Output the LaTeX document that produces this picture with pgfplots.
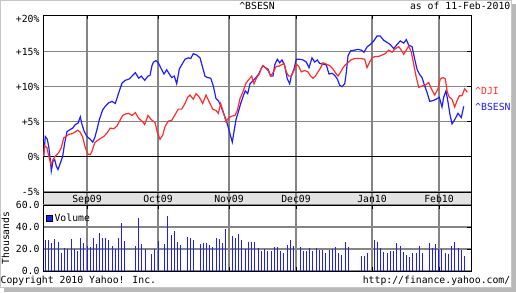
\documentclass[border=0pt]{standalone}
\usepackage{pgfplots}
\pgfplotsset{compat=1.18}
\usepackage{fontspec}
\setmainfont{DejaVu Sans Mono}
\definecolor{bseblue}{RGB}{30,30,255}
\definecolor{djired}{RGB}{255,45,45}
\colorlet{gridgray}{black!48}
\definecolor{bandgray}{RGB}{226,226,226}
\pgfplotstableread{
x y
43.7 0.1
45.3 2.9
47.3 2.5
48.7 1.5
50.3 -0.4
51.3 -2.0
53.0 -0.6
54.7 -0.4
56.3 -1.3
58.0 -1.8
60.3 -0.9
62.7 0.1
64.7 2.0
67.0 3.6
70.3 3.9
72.7 4.1
75.3 4.6
78.0 4.8
80.3 5.7
82.0 4.6
84.3 3.6
87.0 2.9
90.3 2.5
92.7 2.1
94.7 2.7
97.0 3.9
99.3 5.3
102.7 6.7
105.3 7.2
108.7 7.7
112.0 7.9
115.3 7.6
118.7 9.1
122.0 10.5
125.3 10.9
129.3 11.1
132.0 11.5
135.3 12.0
138.7 11.2
141.3 11.5
144.7 10.9
148.0 11.5
150.0 11.6
152.0 13.0
153.5 13.5
156.0 13.7
158.3 13.4
161.0 12.6
164.0 11.8
166.7 12.4
169.3 11.8
171.7 11.3
174.3 11.5
176.7 10.4
179.3 12.5
181.7 13.1
185.0 13.9
188.3 14.1
190.7 14.0
193.3 14.7
196.7 14.5
200.0 14.1
202.7 12.7
205.0 11.5
207.3 11.3
210.7 11.2
213.3 10.1
216.0 8.3
218.3 8.0
220.7 7.3
223.3 6.3
226.0 5.3
228.3 4.2
230.7 2.9
232.3 2.1
234.0 3.6
236.0 5.3
238.3 6.4
240.7 7.6
243.3 8.7
245.3 9.4
247.7 9.0
250.0 10.4
252.7 10.8
256.0 11.3
258.7 11.8
261.3 12.6
263.0 13.0
265.3 12.7
268.0 12.5
270.7 11.5
273.0 11.5
274.7 13.1
277.3 13.9
279.7 13.4
282.0 13.8
284.7 13.0
287.3 11.1
289.7 10.4
291.3 11.5
294.0 12.5
296.3 13.9
299.7 13.9
303.0 13.8
306.3 13.5
309.0 12.7
312.0 14.1
314.7 13.5
317.3 13.8
319.7 13.3
323.0 13.2
326.3 13.1
329.0 11.8
332.0 11.9
334.7 11.6
337.3 11.1
339.7 10.2
342.0 10.0
344.7 10.4
346.3 12.0
348.0 14.4
350.7 15.1
354.7 15.2
358.0 15.3
361.3 15.2
364.0 14.9
367.3 15.7
370.3 16.0
373.7 16.5
377.0 17.2
380.3 17.2
383.7 16.6
387.0 16.3
390.3 16.0
393.7 15.4
397.0 16.0
400.3 16.5
403.7 16.2
406.3 16.7
408.7 15.9
412.0 15.7
414.7 13.9
417.0 12.5
419.3 11.8
422.0 11.3
424.7 10.1
427.0 9.2
429.7 7.9
432.7 8.0
436.0 8.2
439.3 8.5
442.0 7.1
443.7 8.5
446.0 9.4
448.0 7.8
450.0 6.0
452.0 4.7
454.7 5.3
458.0 6.2
461.3 5.6
463.7 7.2
}\bsesn
\pgfplotstableread{
x y
43.7 0.1
44.7 1.6
47.0 1.3
48.7 0.1
51.0 -1.1
53.0 -0.4
55.3 0.1
58.7 0.6
61.3 1.3
63.7 2.7
66.0 2.9
68.7 3.2
72.0 3.3
74.7 3.5
77.7 3.8
80.3 3.5
82.7 2.8
85.3 1.3
88.0 0.4
90.3 0.3
92.0 0.8
94.7 2.0
97.0 2.3
100.3 2.6
103.7 2.9
107.0 3.4
110.3 4.1
113.7 4.0
117.0 4.4
120.3 5.3
122.7 5.9
125.3 6.1
128.7 6.2
132.0 5.9
135.3 6.3
138.7 5.5
142.0 5.1
144.7 4.6
148.0 5.9
151.3 5.3
155.0 4.9
157.3 3.5
160.0 2.5
162.7 3.1
165.0 4.3
168.3 5.1
171.7 5.2
175.0 6.0
178.3 6.8
181.7 6.8
185.0 7.6
187.7 8.5
190.0 8.8
193.3 8.2
196.0 9.0
199.3 8.5
202.7 7.6
206.0 8.8
209.3 7.8
212.7 6.8
216.0 6.6
218.3 6.2
220.7 7.6
223.3 6.4
226.0 5.0
228.3 5.5
231.7 5.8
235.0 5.9
237.3 6.6
240.0 8.3
242.7 9.2
246.0 10.5
249.3 11.1
251.7 11.5
254.0 10.4
256.7 11.3
259.3 11.8
261.3 12.6
263.0 13.0
265.3 12.7
268.0 12.3
270.7 11.5
273.0 12.0
276.3 12.9
278.7 12.9
281.3 13.1
284.0 13.3
286.3 12.1
288.7 11.5
291.3 11.5
294.0 12.3
296.3 13.2
298.7 12.9
301.3 12.1
304.7 12.3
308.0 12.1
310.7 11.5
313.0 11.2
315.3 11.5
318.0 12.1
320.7 12.7
323.0 13.4
326.3 13.2
329.7 13.0
333.0 12.5
336.3 11.8
338.0 11.5
340.7 12.1
343.0 12.7
345.3 13.1
348.0 13.4
350.7 13.8
354.7 14.0
358.0 14.0
361.3 14.0
364.7 13.9
367.0 12.7
369.3 13.4
372.0 14.1
375.3 14.3
378.7 14.3
382.0 14.5
385.3 14.7
388.7 15.2
392.0 14.9
395.3 15.4
398.7 15.7
401.3 15.2
403.7 14.6
406.3 15.2
408.7 15.8
411.3 14.9
413.7 13.2
416.0 11.5
418.7 9.9
422.0 10.1
425.3 10.2
428.7 10.6
431.3 9.7
434.7 8.8
438.0 9.7
440.3 11.1
443.0 11.3
445.3 11.1
447.3 9.2
449.3 8.5
452.0 8.2
454.7 7.1
457.0 8.0
459.3 8.7
462.0 8.7
464.7 9.7
467.3 9.2
}\dji
\pgfplotstableread{
x v
45.3 28.5
48.3 28.5
51.3 25.5
54.3 29.4
58.3 26.4
61.3 16.7
64.3 20.9
67.3 19.7
71.3 29.4
74.3 20.3
77.3 18.2
80.3 30.0
83.3 25.5
87.3 23.0
90.3 22.1
93.3 30.0
96.3 24.5
99.3 34.5
102.3 30.0
105.3 30.0
108.3 28.5
112.3 22.7
115.3 19.7
118.3 30.0
121.3 43.9
124.3 27.6
135.3 23.0
138.3 48.2
141.3 24.5
145.3 20.3
151.3 15.8
154.3 20.3
158.3 27.6
164.3 24.5
167.3 50.0
171.3 32.7
174.3 36.4
177.3 26.4
180.3 23.9
187.3 30.9
190.3 30.0
193.3 28.2
200.3 24.5
203.3 25.5
206.3 25.5
209.3 23.6
212.3 21.8
216.3 30.0
219.3 29.1
222.3 25.5
225.3 38.2
232.3 31.8
235.3 30.0
238.3 33.6
241.3 28.2
245.3 20.0
248.3 26.4
251.3 26.4
254.3 26.4
258.3 20.9
261.3 18.2
264.3 20.0
267.3 18.2
271.3 18.2
274.3 21.8
277.3 21.8
280.3 18.2
283.3 16.4
287.3 23.6
290.3 28.2
293.3 22.7
300.3 21.8
303.3 18.2
306.3 18.2
309.3 20.9
312.3 18.2
316.3 20.9
319.3 19.1
322.3 19.1
325.3 16.4
329.3 19.1
332.3 20.0
335.3 21.8
338.3 16.4
341.3 14.5
345.3 26.4
348.3 21.8
361.3 13.6
364.3 13.6
367.3 16.4
374.3 28.2
377.3 26.4
380.3 20.9
383.3 17.3
387.3 16.4
390.3 18.2
393.3 18.2
396.3 25.5
400.3 22.7
403.3 17.3
406.3 14.5
409.3 12.7
412.3 16.4
416.3 16.4
419.3 22.7
422.3 16.4
429.3 25.5
432.3 20.9
435.3 24.5
438.3 20.0
441.3 20.0
445.3 16.4
448.3 15.5
451.3 22.7
454.3 26.4
458.3 20.9
461.3 19.1
464.3 13.6
}\volume
\begin{document}
\fontsize{9.8}{11}\selectfont
\begin{tikzpicture}[x=1pt,y=1pt]
\path[use as bounding box] (0,0) rectangle (516,292);
\fill[gray!55] (4,0) rectangle (516,4.5);
\fill[gray!55] (511.5,0) rectangle (516,288);
\draw[gray!45, line width=0.6pt] (0.3,4.5) rectangle (511.5,291.7);
\fill[bandgray] (43,87) rectangle (471,100);
\foreach \mx in {87,158,229,296,372,439} {\draw[gridgray, line width=1.1pt] (\mx,87) -- (\mx,100);}
\draw[black, line width=0.9pt] (43,87) rectangle (471,100);
\node[anchor=base, inner sep=0pt] at (257,282) {\textasciicircum BSESN};
\node[anchor=base east, inner sep=0pt] at (510.5,282) {as of 11-Feb-2010};
\node[anchor=base west, inner sep=0pt] at (0.5,9) {Copyright 2010 Yahoo! Inc.};
\node[anchor=base east, inner sep=0pt] at (510.5,9) {http://finance.yahoo.com/};

\begin{axis}[at={(43pt,100pt)}, anchor=south west, scale only axis,
  width=428pt, height=177pt,
  xmin=43, xmax=471, ymin=-5, ymax=20.2,
  axis line style={black, line width=0.9pt},
  xtick={87,158,229,296,372,439},
  xticklabels={Sep09,Oct09,Nov09,Dec09,Jan10,Feb10},
  xtick pos=top, xticklabel pos=bottom,
  ytick={-5,0,5,10,15}, yticklabels={-5\%,0\%,+5\%,+10\%,+15\%},
  ytick pos=right, yticklabel pos=left,
  extra y ticks={20}, extra y tick labels={+20\%},
  extra y tick style={ymajorgrids=false, major tick length=0pt, yticklabel style={yshift=-3pt}},
  tick align=inside, major tick length=4pt,
  tick style={black, line width=0.9pt},
  xmajorgrids=true, ymajorgrids=true,
  major grid style={gridgray, line width=1.1pt},
  clip=false,
]
\addplot[black, line width=0.9pt, forget plot] coordinates {(43,0) (471,0)};
\addplot[bseblue, line width=1.2pt] table[x=x, y=y] {\bsesn};
\addplot[djired, line width=1.2pt] table[x=x, y=y] {\dji};
\node[anchor=west, inner sep=0pt, text=djired] at (axis cs:475,9.4) {\textasciicircum DJI};
\node[anchor=west, inner sep=0pt, text=bseblue] at (axis cs:475,7.1) {\textasciicircum BSESN};
\end{axis}

\begin{axis}[at={(43pt,21pt)}, anchor=south west, scale only axis,
  width=428pt, height=66pt,
  xmin=43, xmax=471, ymin=0, ymax=60,
  axis line style={black, line width=0.9pt},
  xtick={87,158,229,296,372,439}, xticklabels={},
  xtick pos=both,
  ytick={0,20,40,60}, yticklabels={0.0,20.0,40.0,60.0},
  ytick pos=right, yticklabel pos=left,
  tick align=inside, major tick length=4pt,
  tick style={black, line width=0.9pt},
  xmajorgrids=true, ymajorgrids=true,
  major grid style={gridgray, line width=1.1pt},
  ylabel={Thousands},
  legend style={at={(0,1)}, anchor=north west, draw=none, fill=none,
    inner xsep=3pt, inner ysep=0pt, yshift=-7pt, font=\fontsize{9.8}{11}\selectfont},
]
\addplot[ycomb, bseblue, line width=1.1pt, mark=none,
  legend image code/.code={\draw[black, fill=bseblue, line width=0.4pt] (0pt,-3pt) rectangle (6pt,3pt);}]
  table[x=x, y=v] {\volume};
\legend{Volume}
\end{axis}
\end{tikzpicture}
\end{document}
